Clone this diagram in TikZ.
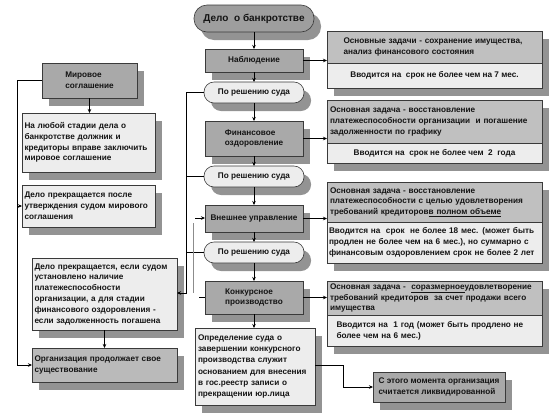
\documentclass[tikz,border=0pt]{standalone}
\usepackage{fontspec}
\setmainfont{Liberation Sans}
\usetikzlibrary{arrows.meta,shadows}
\definecolor{dk}{HTML}{A9A9A9}
\definecolor{md}{HTML}{C0C0C0}
\definecolor{lt}{HTML}{EDEDED}
\definecolor{sh}{HTML}{939393}
\definecolor{ln}{HTML}{3A3A3A}
\newcommand{\bx}[7]{\node[#6, minimum width={(#4-#2)*1pt}, minimum height={(#5-#3)*1pt}] (#1) at ({(#2+#4)/2},{(#3+#5)/2}) {#7};}
\newcommand{\shd}[4]{\fill[sh] ({#1+7},{#2+8}) rectangle ({#3+7},{#4+8});}
\begin{document}
\begin{tikzpicture}[x=1pt,y=-1pt,
  base/.style={draw=ln, line width=0.6pt, outer sep=0pt, inner sep=2pt,
    font=\bfseries\fontsize{8.2}{10.8}\selectfont, text=black!92},
  shd/.style={drop shadow={shadow xshift=7pt, shadow yshift=-8pt, fill=sh, opacity=1}},
  dbox/.style={base, fill=dk, shd},
  lbox/.style={base, fill=lt, shd},
  oval/.style={base, fill=lt, rounded corners=10pt, shd},
  rtop/.style={base, fill=md},
  rbot/.style={base, fill=lt},
  arr/.style={draw=black, line width=0.6pt, -{Stealth[length=4pt,width=3.5pt]}},
  con/.style={draw=black, line width=0.6pt},
  gcon/.style={draw=black!45, line width=0.6pt}]
\useasboundingbox (0,0) rectangle (551,416);
% centre column
\bx{title}{194}{5}{314}{32}{base, fill=black!38, rounded corners=13pt, shd, font=\bfseries\fontsize{10}{12}\selectfont}{Дело~ о банкротстве}
\bx{nab}{205}{49}{303}{72}{dbox}{Наблюдение}
\bx{ov1}{204}{82}{304}{103}{oval}{По решению суда}
\bx{fin}{205}{121}{303}{156}{dbox, align=left}{Финансовое\\оздоровление}
\bx{ov2}{204}{166}{304}{187}{oval}{По решению суда}
\bx{vn}{205}{205}{303}{232}{dbox}{Внешнее управление}
\bx{ov3}{204}{242}{304}{263}{oval}{По решению суда}
\bx{kon}{205}{281}{303}{314}{dbox, align=left}{Конкурсное\\производство}
\bx{opr}{195}{328}{315}{405}{lbox, align=left, text width=114pt, font=\bfseries\fontsize{8.2}{11.2}\selectfont}{Определение суда о\\завершении конкурсного\\производства служит\\основанием для внесения\\в гос.реестр записи о\\прекращении юр.лица}
\bx{liq}{373}{372}{505}{402}{dbox, align=left}{С этого момента организация\\считается ликвидированной}
% left column
\bx{mir}{42}{63}{137}{98}{dbox, align=left}{Мировое\\соглашение}
\bx{any}{22}{113}{155}{172}{lbox, align=left, text width=128pt}{На любой стадии дела о\\банкротстве должник и\\кредиторы вправе заключить\\мировое соглашение}
\bx{stop1}{22}{185}{155}{227}{lbox, align=left, text width=128pt}{Дело прекращается после\\утверждения судом мирового\\соглашения}
\bx{stop2}{32}{258}{177}{330}{lbox, align=left, text width=140pt}{Дело прекращается, если судом\\установлено наличие\\платежеспособности\\организации, а для стадии\\финансового оздоровления -\\если задолженность погашена}
\bx{org}{32}{348}{177}{382}{base, fill=black!27, shd, align=left, text width=140pt}{Организация продолжает свое\\существование}
% right column
\shd{327}{31}{542}{88}
\bx{at}{327}{31}{542}{63}{rtop, align=left, text width=182pt}{Основные задачи - сохранение имущества,\\анализ финансового состояния}
\bx{ab}{327}{63}{542}{88}{rbot}{Вводится на~ срок не более чем на 7 мес.}
\shd{327}{100}{542}{163}
\bx{bt}{327}{100}{542}{143}{rtop, align=left, text width=209pt}{Основная задача - восстановление\\платежеспособности организации~ и погашение\\задолженности по графику}
\bx{bb}{327}{143}{542}{163}{rbot}{Вводится на~ срок не более чем~ 2~ года}
\shd{327}{182}{542}{263}
\bx{ct}{327}{182}{542}{222}{rtop, align=left, text width=209pt}{Основная задача - восстановление\\платежеспособности с целью удовлетворения\\требований кредиторов\underline{в полном объеме}}
\bx{cb}{327}{222}{542}{263}{rbot, align=left, text width=211pt}{Вводится на~ срок~ не более 18 мес. (может быть\\продлен не более чем на 6 мес.), но суммарно с\\финансовым оздоровлением срок не более 2 лет}
\shd{327}{281}{542}{346}
\bx{dt}{327}{281}{542}{315}{rtop, align=left, text width=209pt}{Основная задача -~ \underline{соразмерное}удовлетворение\\требований кредиторов~ за счет продажи всего\\имущества}
\bx{db}{327}{315}{542}{346}{rbot, align=left, text width=196pt}{Вводится на~ 1 год (может быть продлено не\\более чем на 6 мес.)}
% centre chain
\draw[arr] (title.south -| nab.north) -- (nab.north);
\draw[arr] (nab.south) -- (ov1.north -| nab.south);
\draw[arr] (ov1.south -| fin.north) -- (fin.north);
\draw[arr] (fin.south) -- (ov2.north -| fin.south);
\draw[arr] (ov2.south -| vn.north) -- (vn.north);
\draw[arr] (vn.south) -- (ov3.north -| vn.south);
\draw[arr] (ov3.south -| kon.north) -- (kon.north);
\draw[arr] (kon.south) -- (opr.north -| kon.south);
% to the right
\draw[arr] (nab.east) -- (nab.east -| at.west);
\draw[arr] (fin.east) -- (fin.east -| bt.west);
\draw[arr] (vn.east) -- (vn.east -| ct.west);
\draw[arr] (kon.east) -- (kon.east -| dt.west);
\coordinate (Q) at (343,365);
\draw[arr] (opr.east |- Q) -- (Q) |- (liq.west);
% court decision lines
\coordinate (L) at (186,293);
\draw[arr] (ov1.west) -| (L) -- (L -| stop2.east);
\draw[con] (ov2.west) -- (ov2.west -| L);
\draw[con] (ov3.west) -- (ov3.west -| L);
\coordinate (g1) at (195,218);
\coordinate (g2) at (193,223);
\coordinate (g3) at (193,293);
\coordinate (g4) at (199,297);
\draw[arr] (g1) -- (g1 -| vn.west);
\draw[gcon] (g2) -- (g3);
\draw[con] (g4) -- (g4 -| kon.west);
% left lines
\coordinate (M) at (17,80);
\draw[arr] (mir.west |- M) -- (M) |- (org.west);
\draw[arr] (M |- stop1.west) -- (stop1.west);
\draw[arr] (mir.south) -- (mir.south |- any.north);
\draw[arr] (stop2.south) -- (stop2.south |- org.north);
\end{tikzpicture}
\end{document}
